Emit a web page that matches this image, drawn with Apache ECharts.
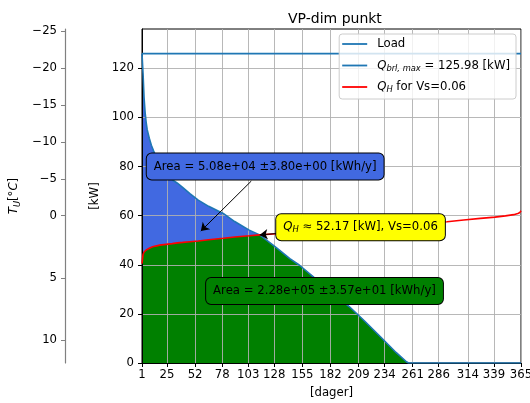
<!DOCTYPE html>
<html>
<head>
<meta charset="utf-8">
<script src="https://cdn.jsdelivr.net/npm/echarts@6/dist/echarts.min.js"></script>
<style>
  html, body { margin: 0; padding: 0; background: #fff; overflow: hidden; }
  #chart { width: 530px; height: 403px; }
</style>
</head>
<body>
<div id="chart"></div>
<script>
// Duration curve: day of year (sorted) and heat load [kW]
const days = [1, 2, 3, 4, 5, 6, 8, 10, 12, 15, 18, 22, 26, 30, 35, 40, 47, 55, 65, 79, 90, 104, 114, 130, 143, 152, 165, 180, 200, 215, 230, 245, 255, 257, 280, 294, 310, 326, 340, 350, 358, 362, 364, 365];
const load = [125.98, 118, 108, 102, 98, 95, 91.5, 88.7, 86.5, 83.5, 81.3, 78.8, 76.5, 74.6, 73.2, 71.5, 69, 66.3, 63.8, 60.9, 57.6, 54.1, 52.17, 47, 42.5, 39.9, 35.3, 29.8, 23, 17, 10.7, 4.3, 0.5, 0, 0, 0, 0, 0, 0, 0, 0, 0, 0, 0];
// Heat pump capacity Q_H for Vs=0.06 on the same days
const qh = [40.5, 44.2, 45.2, 45.7, 46.0, 46.3, 46.7, 47.1, 47.4, 47.7, 48.0, 48.2, 48.4, 48.6, 48.9, 49.1, 49.4, 49.7, 50.2, 50.8, 51.3, 51.8, 52.17, 52.6, 53.0, 53.3, 53.7, 54.2, 54.8, 55.3, 55.8, 56.3, 56.6, 56.7, 57.2, 57.5, 58.2, 58.9, 59.4, 59.9, 60.4, 60.9, 61.3, 62];
const qbrlMax = 125.98;
const crossDay = 114;
const crossQ = 52.17;

// Axis ticks
const xTicks = [1, 25, 52, 78, 103, 128, 155, 182, 209, 234, 261, 286, 314, 339, 365];
const yTicks = [0, 20, 40, 60, 80, 100, 120];
// Outdoor temperature scale and the load each temperature corresponds to
const tempTicks = [-25, -20, -15, -10, -5, 0, 5, 10];
const tempTickLoad = [135, 120, 105, 90, 75, 60, 34.7, 9.4];

// Annotation texts and anchor points [day, kW]
const areaPeakText = 'Area = 5.08e+04 ±3.80e+00 [kWh/y]';
const areaBaseText = 'Area = 2.28e+05 ±3.57e+01 [kWh/y]';
const qhText = '{i|Q}{sub|H} ≈ ' + crossQ.toFixed(2) + ' [kW], Vs=0.06';
const areaPeakPos = [119.3, 80];
const areaBasePos = [176.3, 29.3];
const qhPos = [210.9, 55.3];
const areaPeakArrow = [[106, 74.1], [57.5, 53.7]];
const qhArrowTail = [129.6, 52.7];

const FONT = 'DejaVu Sans';
const FS = 11.7;
const pair = (xs, ys) => xs.map((d, i) => [d, ys[i]]);
const covered = days.map((d, i) => [d, Math.min(load[i], qh[i])]);
const minus = v => String(v).replace('-', '\u2212');

const richMath = {
  i: { fontFamily: FONT, fontSize: FS, fontStyle: 'italic', color: '#000' },
  sub: { fontFamily: FONT, fontSize: 8.3, fontStyle: 'italic', color: '#000', verticalAlign: 'bottom', lineHeight: 9 }
};

const legendText = {
  'Load': 'Load',
  'Qbrl': '{i|Q}{sub|brl, max} = ' + qbrlMax.toFixed(2) + ' [kW]',
  'QH': '{i|Q}{sub|H} for Vs=0.06'
};

const boxLabel = (bg) => ({
  show: true, position: 'inside', opacity: 1,
  fontFamily: FONT, fontSize: FS, color: '#000', lineHeight: 14,
  backgroundColor: bg, borderColor: '#000', borderWidth: 1, borderRadius: 5,
  padding: [6, 7, 6, 7], rich: richMath
});

const chart = echarts.init(document.getElementById('chart'), null, { renderer: 'canvas' });
chart.setOption({
  animation: false,
  title: {
    text: 'VP-dim punkt', left: 283, top: 7,
    textStyle: { fontFamily: FONT, fontSize: 14, fontWeight: 'normal', color: '#000' }
  },
  legend: {
    data: ['Load', 'Qbrl', 'QH'],
    orient: 'vertical', right: 14, top: 34,
    icon: 'rect', itemWidth: 25, itemHeight: 1.8, itemGap: 7.5,
    backgroundColor: 'rgba(255,255,255,0.8)', borderColor: '#cccccc', borderWidth: 1, borderRadius: 3,
    padding: [3, 6, 5, 3],
    formatter: name => legendText[name],
    textStyle: { fontFamily: FONT, fontSize: FS, color: '#000', lineHeight: 14, padding: [0, 0, 0, 5], rich: richMath }
  },
  grid: {
    left: 142, right: 9, top: 29, bottom: 40,
    outerBoundsMode: 'none', containLabel: false,
    show: true, borderColor: '#000', borderWidth: 1, backgroundColor: 'transparent'
  },
  xAxis: {
    type: 'value', min: 1, max: 365, z: 2,
    name: '[dager]', nameLocation: 'middle', nameGap: 24,
    nameTextStyle: { fontFamily: FONT, fontSize: FS, color: '#000' },
    axisLine: { show: true, onZero: false, lineStyle: { color: '#000', width: 1 } },
    axisTick: { show: true, length: 4, customValues: xTicks, lineStyle: { color: '#000' } },
    axisLabel: { customValues: xTicks, margin: 6, fontFamily: FONT, fontSize: FS, color: '#000' },
    splitLine: { show: true, lineStyle: { color: '#b0b0b0', width: 0.9 } }
  },
  yAxis: [
    {
      type: 'value', min: 0, max: 136, z: 2, position: 'left',
      name: '[kW]', nameLocation: 'middle', nameRotate: 90, nameGap: 32,
      nameTextStyle: { fontFamily: FONT, fontSize: FS, color: '#000' },
      axisLine: { show: true, lineStyle: { color: '#000', width: 1 } },
      axisTick: { show: true, length: 4, customValues: yTicks, lineStyle: { color: '#000' } },
      axisLabel: { customValues: yTicks, margin: 8, fontFamily: FONT, fontSize: FS, color: '#000' },
      splitLine: { show: true, lineStyle: { color: '#b0b0b0', width: 0.9 } }
    },
    {
      type: 'value', min: 0, max: 136, z: 2, position: 'left', offset: 77,
      name: '{i|T}{sub|U}[°{i|C}]', nameLocation: 'middle', nameRotate: 90, nameGap: 34,
      nameTextStyle: { fontFamily: FONT, fontSize: FS, color: '#000', lineHeight: 14, rich: richMath },
      axisLine: { show: true, lineStyle: { color: '#808080', width: 1.2 } },
      axisTick: { show: true, length: 4, customValues: tempTickLoad, lineStyle: { color: '#808080' } },
      axisLabel: {
        customValues: tempTickLoad, margin: 8, fontFamily: FONT, fontSize: FS, color: '#000',
        formatter: v => {
          const i = tempTickLoad.findIndex(t => Math.abs(t - v) < 1e-6);
          return i >= 0 ? minus(tempTicks[i]) : '';
        }
      },
      splitLine: { show: false }
    }
  ],
  series: [
    {
      name: 'loadFill', type: 'line', data: pair(days, load), z: 1,
      symbol: 'none', silent: true,
      lineStyle: { width: 0, opacity: 0 },
      areaStyle: { color: '#4169e1', opacity: 1 }
    },
    {
      name: 'coveredFill', type: 'line', data: covered, z: 1,
      symbol: 'none', silent: true,
      lineStyle: { width: 0, opacity: 0 },
      areaStyle: { color: '#008000', opacity: 1 }
    },
    {
      name: 'Load', type: 'line', data: pair(days, load), z: 3,
      symbol: 'none', itemStyle: { color: '#1f77b4' },
      lineStyle: { color: '#1f77b4', width: 1.6 }
    },
    {
      name: 'Qbrl', type: 'line', data: [[1, qbrlMax], [365, qbrlMax]], z: 3,
      symbol: 'none', itemStyle: { color: '#1f77b4' },
      lineStyle: { color: '#1f77b4', width: 1.6 }
    },
    {
      name: 'QH', type: 'line', data: pair(days, qh), z: 3,
      symbol: 'none', itemStyle: { color: '#ff0000' },
      lineStyle: { color: '#ff0000', width: 1.6 }
    },
    {
      name: 'notes', type: 'scatter', z: 10, symbolSize: 1,
      itemStyle: { color: 'rgba(0,0,0,0)', opacity: 1 },
      data: [
        { value: areaPeakPos, label: Object.assign(boxLabel('#4169e1'), { formatter: areaPeakText }) },
        { value: qhPos, label: Object.assign(boxLabel('#ffff00'), { formatter: qhText }) },
        { value: areaBasePos, label: Object.assign(boxLabel('#008000'), { formatter: areaBaseText }) }
      ],
      markLine: {
        silent: true, symbol: ['none', 'arrow'], symbolSize: 8,
        label: { show: false },
        lineStyle: { color: '#000', width: 1, type: 'solid', opacity: 1 },
        data: [
          [{ coord: areaPeakArrow[0] }, { coord: areaPeakArrow[1] }],
          [{ coord: qhArrowTail }, { coord: [crossDay, crossQ] }]
        ]
      }
    }
  ]
});
</script>
</body>
</html>
